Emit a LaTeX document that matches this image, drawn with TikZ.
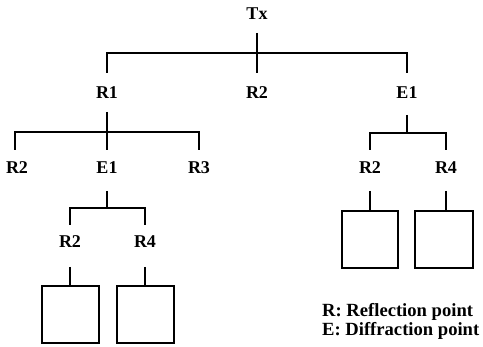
\documentclass[tikz,border=0pt]{standalone}
\usepackage{fontspec}
\setmainfont{Liberation Serif}
\begin{document}
\begin{tikzpicture}[x=1pt,y=-1pt,
  lbl/.style={font=\fontsize{18}{20}\selectfont\bfseries, inner sep=0pt, text height=12pt, text depth=0pt, anchor=center},
  conn/.style={draw=black, line width=1.5pt},
  leaf/.style={draw=black, line width=1.2pt, inner sep=0pt, minimum height=57pt},
  legend/.style={font=\fontsize{18.6}{20}\selectfont\bfseries, inner sep=0pt, text height=12pt, text depth=0pt, anchor=west}]
\useasboundingbox (0,0) rectangle (483,347);
% labels
\node[lbl] (Tx) at (257,14) {Tx};
\node[lbl] (R1) at (107,93) {R1};
\node[lbl] (R2) at (257,93) {R2};
\node[lbl] (E1) at (407,93) {E1};
\node[lbl] (R2a) at (17,168) {R2};
\node[lbl] (E1a) at (107,168) {E1};
\node[lbl] (R3) at (199,168) {R3};
\node[lbl] (R2b) at (370,168) {R2};
\node[lbl] (R4b) at (446,168) {R4};
\node[lbl] (R2c) at (70,242) {R2};
\node[lbl] (R4c) at (145,242) {R4};
% boxes
\node[leaf, minimum width=57pt] (B1) at (70.5,314.5) {};
\node[leaf, minimum width=57pt] (B2) at (145.5,314.5) {};
\node[leaf, minimum width=56pt] (B3) at (370,239.5) {};
\node[leaf, minimum width=58pt] (B4) at (444,239.5) {};
% Tx level
\draw[conn] (Tx |- 0,33) -- (R2 |- 0,73);
\draw[conn] (R1 |- 0,73) -- (R1 |- 0,53) -- (E1 |- 0,53) -- (E1 |- 0,73);
% R1 level
\draw[conn] (R1 |- 0,112) -- (E1a |- 0,150);
\draw[conn] ([xshift=-2pt]R2a.center |- 0,150) -- ([xshift=-2pt]R2a.center |- 0,132) -- (R3 |- 0,132) -- (R3 |- 0,150);
% E1 right
\draw[conn] (E1 |- 0,115) -- (E1 |- 0,133);
\draw[conn] (R2b |- 0,150) -- (R2b |- 0,133) -- (R4b |- 0,133) -- (R4b |- 0,150);
% E1 left
\draw[conn] (E1a |- 0,191) -- (E1a |- 0,208);
\draw[conn] (R2c |- 0,225) -- (R2c |- 0,208) -- (R4c |- 0,208) -- (R4c |- 0,225);
% to boxes
\draw[conn] (R2c |- 0,267) -- (R2c |- B1.north);
\draw[conn] (R4c |- 0,267) -- (R4c |- B2.north);
\draw[conn] (R2b |- 0,191) -- (R2b |- B3.north);
\draw[conn] (R4b |- 0,191) -- (R4b |- B4.north);
% legend
\node[legend] (L1) at (322,311) {R: Reflection point};
\node[legend] (L2) at (322,330) {E: Diffraction point};
\end{tikzpicture}
\end{document}
